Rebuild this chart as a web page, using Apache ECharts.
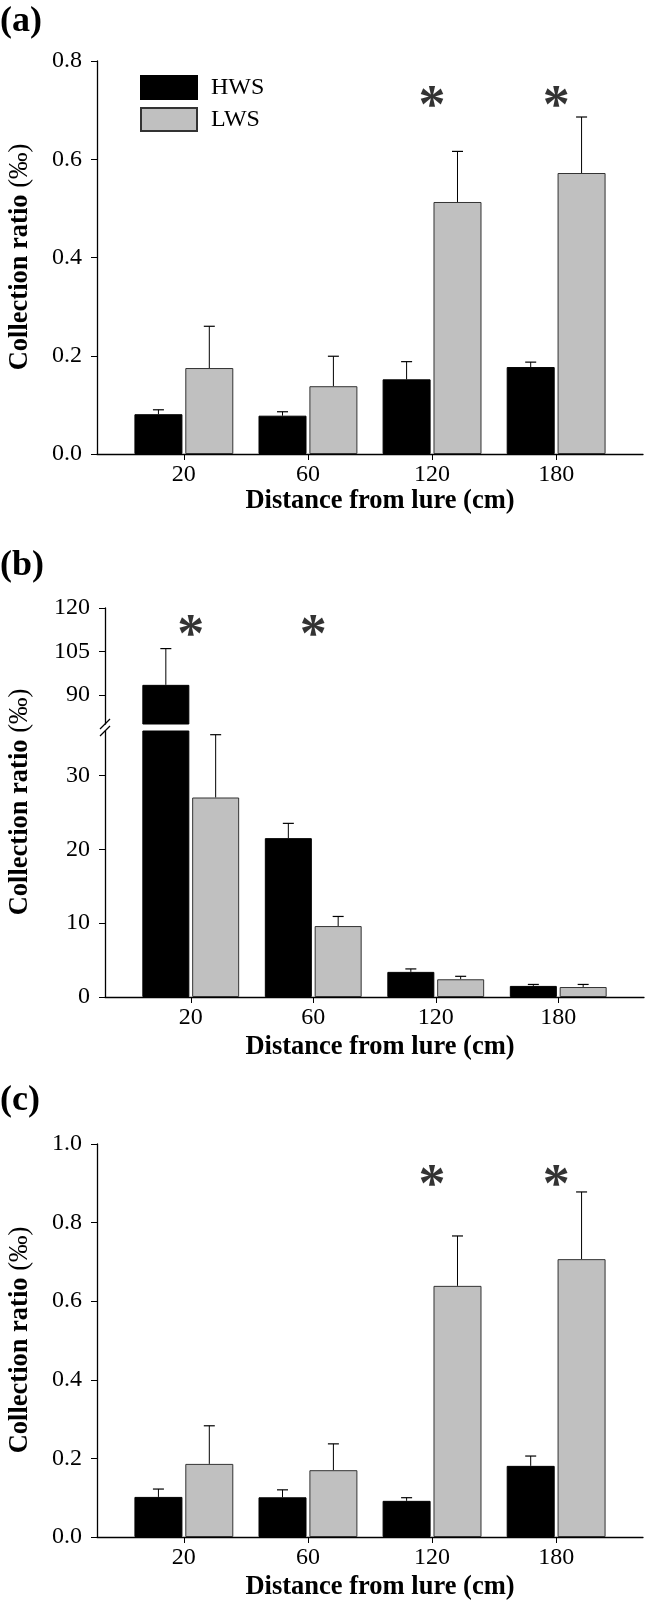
<!DOCTYPE html>
<html><head><meta charset="utf-8">
<script src="https://cdn.jsdelivr.net/npm/echarts@6/dist/echarts.min.js"></script>
<style>html,body{margin:0;padding:0;background:#fff}#c{width:646px;height:1605px}</style>
</head><body><div id="c"></div>
<script>
// ---------- data ----------
const distances = ['20', '60', '120', '180'];
const seriesNames = ['HWS', 'LWS'];
// panel (a)
const aHWS   = [0.081, 0.078, 0.152, 0.177];
const aHWSse = [0.009, 0.008, 0.036, 0.010];
const aLWS   = [0.175, 0.138, 0.513, 0.572];
const aLWSse = [0.085, 0.061, 0.103, 0.114];
const aSig   = [false, false, true, true];
const aStarLevel = 0.724;
const aTicks = [0, 0.2, 0.4, 0.6, 0.8];
// panel (b)
const bHWS   = [93.5, 21.5, 3.4, 1.5];
const bHWSse = [12.5, 2.0, 0.4, 0.2];
const bLWS   = [27.0, 9.6, 2.4, 1.35];
const bLWSse = [8.5, 1.3, 0.4, 0.35];
const bSig   = [true, true, false, false];
const bStarLevel = 113.4;
const bTicksLow  = [0, 10, 20, 30];
const bTicksHigh = [90, 105, 120];
// panel (c)
const cHWS   = [0.102, 0.101, 0.092, 0.181];
const cHWSse = [0.020, 0.019, 0.008, 0.025];
const cLWS   = [0.186, 0.170, 0.639, 0.707];
const cLWSse = [0.097, 0.067, 0.127, 0.171];
const cSig   = [false, false, true, true];
const cStarLevel = 0.916;
const cTicks = [0, 0.2, 0.4, 0.6, 0.8, 1.0];

// ---------- helpers ----------
const FONT = "'Liberation Serif','Times New Roman',serif";
const TICKFS = 24, TITLEFS = 26.5;
const cats = distances.map((d, i) => i + 1);

function xAxis(gi, show) {
  return {
    type: 'value', gridIndex: gi, min: 0.3, max: 4.7, show: show,
    axisLine: { show: true, onZero: false, lineStyle: { color: '#000', width: 1.3 } },
    axisTick: { show: true, length: 6, customValues: cats, lineStyle: { color: '#000', width: 1 } },
    axisLabel: { customValues: cats, formatter: v => distances[Math.round(v) - 1],
      fontFamily: FONT, fontSize: TICKFS, color: '#000', margin: 9 },
    splitLine: { show: false }
  };
}
function yAxis(gi, min, max, ticks, fmt) {
  return {
    type: 'value', gridIndex: gi, min: min, max: max,
    axisLine: { show: true, onZero: false, lineStyle: { color: '#000', width: 1.3 } },
    axisTick: { show: true, length: 6, customValues: ticks, lineStyle: { color: '#000', width: 1 } },
    axisLabel: { customValues: ticks, formatter: fmt, fontFamily: FONT, fontSize: TICKFS, color: '#000', margin: 15 },
    splitLine: { show: false }
  };
}
function bars(ai, vals, name, bw) {
  const isH = name === 'HWS';
  return {
    type: 'bar', name: name, xAxisIndex: ai, yAxisIndex: ai, barWidth: bw, barGap: '6%',
    data: vals.map((v, i) => [i + 1, v]), clip: true, silent: true,
    itemStyle: { color: isH ? '#000000' : '#c0c0c0', borderColor: isH ? '#000' : '#333', borderWidth: 1 }
  };
}
function errs(ai, vals, ses, side, bw, lo, hi) {
  const data = vals.map((v, i) => [i + 1, v, v + ses[i]])
    .filter(d => d[1] >= lo && d[2] <= hi);
  return {
    type: 'custom', xAxisIndex: ai, yAxisIndex: ai, silent: true, data: data,
    renderItem: (p, api) => {
      const a = api.coord([api.value(0), api.value(1)]);
      const b = api.coord([api.value(0), api.value(2)]);
      const x = a[0] + side * 0.53 * bw;
      return { type: 'group', children: [
        { type: 'line', shape: { x1: x, y1: a[1], x2: x, y2: b[1] }, style: { stroke: '#000', lineWidth: 1 } },
        { type: 'line', shape: { x1: x - 5.5, y1: b[1], x2: x + 5.5, y2: b[1] }, style: { stroke: '#000', lineWidth: 1.2 } }
      ]};
    }
  };
}
function stars(ai, sig, level) {
  return {
    type: 'scatter', xAxisIndex: ai, yAxisIndex: ai, symbolSize: 2, silent: true,
    itemStyle: { color: 'rgba(0,0,0,0)' },
    data: sig.map((s, i) => s ? [i + 1, level] : null).filter(Boolean),
    label: { show: true, position: 'inside', formatter: '*', fontFamily: FONT, fontWeight: 'bold',
      fontSize: 54, color: '#000', textBorderWidth: 0, textBorderColor: 'transparent', offset: [0, 10] }
  };
}
function ytitle(x, y) {
  return { type: 'text', x: x, y: y, rotation: Math.PI / 2, silent: true,
    style: { text: '{b|Collection ratio }{n|(‰)}', align: 'center', verticalAlign: 'middle', fill: '#000',
      rich: { b: { fontFamily: FONT, fontSize: TITLEFS, fontWeight: 'bold', fill: '#000' },
              n: { fontFamily: FONT, fontSize: TITLEFS, fontWeight: 'normal', fill: '#000' } } } };
}
function xtitle(y) {
  return { type: 'text', x: 380, y: y, silent: true,
    style: { text: 'Distance from lure (cm)', align: 'center', verticalAlign: 'middle',
      fontFamily: FONT, fontSize: TITLEFS, fontWeight: 'bold', fill: '#000' } };
}
function plabel(t, top) {
  return { type: 'text', left: 0, top: top, silent: true,
    style: { text: t, fontFamily: FONT, fontSize: 36, fontWeight: 'bold', fill: '#000' } };
}

const BW1 = 48, BW2 = 47;
const fmt1 = v => v.toFixed(1);
const fmt0 = v => String(Math.round(v));

const option = {
  animation: false,
  backgroundColor: '#fff',
  grid: [
    { left: 97, top: 61, width: 546, height: 393 },
    { left: 105, top: 608, width: 539, height: 116 },
    { left: 105, top: 731, width: 539, height: 266 },
    { left: 97, top: 1144, width: 546, height: 393 }
  ],
  xAxis: [xAxis(0, true), xAxis(1, false), xAxis(2, true), xAxis(3, true)],
  yAxis: [
    yAxis(0, 0, 0.8, aTicks, fmt1),
    yAxis(1, 80, 120, bTicksHigh, fmt0),
    yAxis(2, 0, 36, bTicksLow, fmt0),
    yAxis(3, 0, 1.0, cTicks, fmt1)
  ],
  legend: {
    data: seriesNames, orient: 'vertical', left: 135, top: 70, itemWidth: 56, itemHeight: 23, itemGap: 7,
    icon: 'rect', selectedMode: false,
    textStyle: { fontFamily: FONT, fontSize: 24, color: '#000', padding: [0, 0, 0, 9] }
  },
  series: [
    bars(0, aHWS, 'HWS', BW1), bars(0, aLWS, 'LWS', BW1),
    errs(0, aHWS, aHWSse, -1, BW1, -Infinity, Infinity), errs(0, aLWS, aLWSse, 1, BW1, -Infinity, Infinity),
    stars(0, aSig, aStarLevel),

    bars(1, bHWS, 'HWS', BW2), bars(1, bLWS, 'LWS', BW2),
    errs(1, bHWS, bHWSse, -1, BW2, 80, 120), errs(1, bLWS, bLWSse, 1, BW2, 80, 120),
    stars(1, bSig, bStarLevel),

    bars(2, bHWS, 'HWS', BW2), bars(2, bLWS, 'LWS', BW2),
    errs(2, bHWS, bHWSse, -1, BW2, -Infinity, 36), errs(2, bLWS, bLWSse, 1, BW2, -Infinity, 36),

    bars(3, cHWS, 'HWS', BW1), bars(3, cLWS, 'LWS', BW1),
    errs(3, cHWS, cHWSse, -1, BW1, -Infinity, Infinity), errs(3, cLWS, cLWSse, 1, BW1, -Infinity, Infinity),
    stars(3, cSig, cStarLevel)
  ],
  graphic: [
    plabel('(a)', 4), plabel('(b)', 548), plabel('(c)', 1083),
    ytitle(20, 257), ytitle(20, 802), ytitle(20, 1340),
    xtitle(501), xtitle(1047), xtitle(1587)
  ]
};

const chart = echarts.init(document.getElementById('c'), null, { renderer: 'canvas' });
chart.setOption(option);

// axis break marks for panel (b)
const pTop = chart.convertToPixel({ xAxisIndex: 1, yAxisIndex: 1 }, [0.3, 80]);
const pBot = chart.convertToPixel({ xAxisIndex: 2, yAxisIndex: 2 }, [0.3, 36]);
chart.setOption({ graphic: option.graphic.concat([
  { type: 'line', silent: true, shape: { x1: pTop[0] - 5, y1: pTop[1] + 5, x2: pTop[0] + 5, y2: pTop[1] - 5 }, style: { stroke: '#000', lineWidth: 1.2 } },
  { type: 'line', silent: true, shape: { x1: pBot[0] - 5, y1: pBot[1] + 5, x2: pBot[0] + 5, y2: pBot[1] - 5 }, style: { stroke: '#000', lineWidth: 1.2 } }
]) });
</script>
</body></html>
